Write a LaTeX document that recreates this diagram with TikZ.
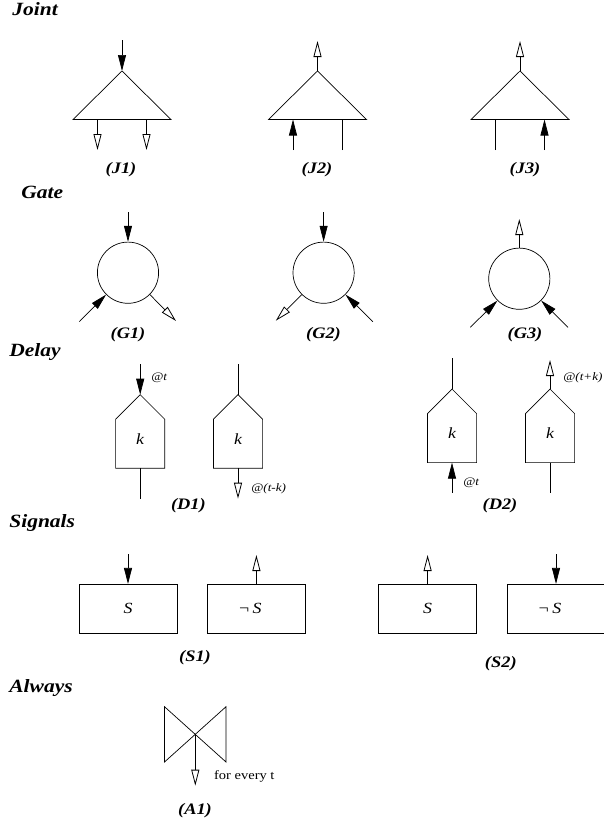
\documentclass[tikz,border=0pt]{standalone}
\usepackage{fontspec}
\setmainfont[FakeStretch=1.15]{Liberation Serif}
\usetikzlibrary{arrows.meta}
\tikzset{
 x=1pt,y=-1pt,
 filledin/.style={-{Triangle[length=16pt,width=8pt,fill=black]}},
 openout/.style={-{Triangle[length=16pt,width=8pt,open,fill=white,line width=0.8pt]}},
 heading/.style={font=\fontsize{18.7}{20}\selectfont\bfseries\itshape,anchor=west,inner sep=0pt},
 caption/.style={font=\fontsize{16}{18}\selectfont\bfseries\itshape,inner sep=0pt},
 var/.style={font=\fontsize{15.5}{17}\selectfont\itshape,inner sep=0pt},
 small/.style={font=\fontsize{11.4}{13}\selectfont\itshape,anchor=west,inner sep=0pt},
 plain/.style={font=\fontsize{12.6}{14}\selectfont,anchor=west,inner sep=0pt},
 gate/.style={circle,draw,minimum size=61.2pt,inner sep=0pt},
 sig/.style={rectangle,draw,minimum width=98.3pt,minimum height=49pt,inner sep=0pt,font=\fontsize{15.5}{17}\selectfont\itshape},
 pics/joint/.style={code={
  \coordinate (-a) at (0,0);
  \coordinate (-l) at (-24.5,48.5);
  \coordinate (-r) at (24.5,48.5);
  \draw (-a) -- (-49,48.5) -- (49,48.5) -- cycle;
 }},
 pics/house/.style={code={
  \coordinate (-a) at (0,0);
  \coordinate (-b) at (0,73.6);
  \draw (-a) -- (24.6,24.6) -- (24.6,73.6) -- (-24.6,73.6) -- (-24.6,24.6) -- cycle;
  \node[var] (-k) at (0,44.5) {k};
 }},
}
\begin{document}
\begin{tikzpicture}[line width=0.7pt]
\useasboundingbox (0,0) rectangle (604,827);
\clip (0,0) rectangle (604,827);
% headings
\node[heading] (hj) at (12,9) {Joint};
\node[heading] (hg) at (21,192) {Gate};
\node[heading] (hd) at (9,352) {Delay};
\node[heading] (hs) at (9,523) {Signals};
\node[heading] (ha) at (9,688) {Always};
% joints
\pic (j1) at (122,71) {joint};
\pic (j2) at (317.5,71) {joint};
\pic (j3) at (520,71) {joint};
\coordinate (j1i) at (122,40);
\coordinate (j1x) at (97.5,150);
\coordinate (j1y) at (146.5,150);
\coordinate (j2o) at (317.5,41);
\coordinate (j2x) at (293,150);
\coordinate (j2y) at (342,150);
\coordinate (j3o) at (520,41);
\coordinate (j3x) at (495.5,150);
\coordinate (j3y) at (544.5,150);
\draw[filledin] (j1i) -- (j1-a);
\draw[openout] (j1-l) -- (j1x);
\draw[openout] (j1-r) -- (j1y);
\draw[openout] (j2-a) -- (j2o);
\draw[filledin] (j2x) -- (j2-l);
\draw (j2y) -- (j2-r);
\draw[openout] (j3-a) -- (j3o);
\draw (j3x) -- (j3-l);
\draw[filledin] (j3y) -- (j3-r);
\node[caption] (cj1) at (121,170) {(J1)};
\node[caption] (cj2) at (317,170) {(J2)};
\node[caption] (cj3) at (525,170) {(J3)};
% gates
\node[gate] (g1) at (128,272.7) {};
\node[gate] (g2) at (323.6,272.7) {};
\node[gate] (g3) at (519.3,278.7) {};
\coordinate (g1i) at (128,212);
\coordinate (g1l) at (79.3,321.7);
\coordinate (g1r) at (176,321);
\coordinate (g2i) at (323.6,212);
\coordinate (g2l) at (275.8,320.7);
\coordinate (g2r) at (372.9,321.7);
\coordinate (g3o) at (519.3,219);
\coordinate (g3l) at (470.3,327.3);
\coordinate (g3r) at (568,327.3);
\draw[filledin] (g1i) -- (g1.north);
\draw[filledin] (g1l) -- (g1.225);
\draw[openout] (g1.-45) -- (g1r);
\draw[filledin] (g2i) -- (g2.north);
\draw[openout] (g2.225) -- (g2l);
\draw[filledin] (g2r) -- (g2.-45);
\draw[openout] (g3.north) -- (g3o);
\draw[filledin] (g3l) -- (g3.225);
\draw[filledin] (g3r) -- (g3.-45);
\node[caption] (cg1) at (128,335) {(G1)};
\node[caption] (cg2) at (323.5,335) {(G2)};
\node[caption] (cg3) at (525,335) {(G3)};
% delays
\pic (d1) at (140.2,394.7) {house};
\pic (d2) at (238,394.7) {house};
\pic (d3) at (452,389) {house};
\pic (d4) at (550,389) {house};
\coordinate (d1t) at (140.2,364.3);
\coordinate (d1e) at (140.2,498.7);
\coordinate (d2t) at (238,364.3);
\coordinate (d2e) at (238,498.7);
\coordinate (d3t) at (452,358);
\coordinate (d3e) at (452,492.7);
\coordinate (d4t) at (550,360);
\coordinate (d4e) at (550,492.7);
\draw[filledin] (d1t) -- (d1-a);
\draw (d1-b) -- (d1e);
\draw (d2t) -- (d2-a);
\draw[openout] (d2-b) -- (d2e);
\draw (d3t) -- (d3-a);
\draw[filledin] (d3e) -- (d3-b);
\draw[openout] (d4-a) -- (d4t);
\draw (d4-b) -- (d4e);
\node[small] (l1) at (151,378) {@t};
\node[small] (l2) at (251,488.7) {@(t-k)};
\node[small] (l3) at (463,482.7) {@t};
\node[small] (l4) at (563,378) {@(t+k)};
\node[caption] (cd1) at (188.4,505.7) {(D1)};
\node[caption] (cd2) at (500,505.7) {(D2)};
% signals
\node[sig] (s1) at (128,608.8) {S};
\node[sig] (s2) at (256.4,608.8) {\hspace*{-13pt}¬\,S};
\node[sig] (s3) at (427.6,608.8) {S};
\node[sig] (s4) at (556,608.8) {\hspace*{-13pt}¬\,S};
\coordinate (s1t) at (128,554);
\coordinate (s2t) at (256.4,555);
\coordinate (s3t) at (427.6,555);
\coordinate (s4t) at (556,554);
\draw[filledin] (s1t) -- (s1.north);
\draw[openout] (s2.north) -- (s2t);
\draw[openout] (s3.north) -- (s3t);
\draw[filledin] (s4t) -- (s4.north);
\node[caption] (cs1) at (195,658) {(S1)};
\node[caption] (cs2) at (500.8,664) {(S2)};
% always
\coordinate (ac) at (195.3,734);
\coordinate (ae) at (195.3,785.7);
\draw (164.5,706.7) -- (226,762) -- (226,706.7) -- (164.5,762) -- cycle;
\draw[openout] (ac) -- (ae);
\node[plain] (fe) at (213.8,776) {for every t};
\node[caption] (ca1) at (195,811) {(A1)};
\end{tikzpicture}
\end{document}
